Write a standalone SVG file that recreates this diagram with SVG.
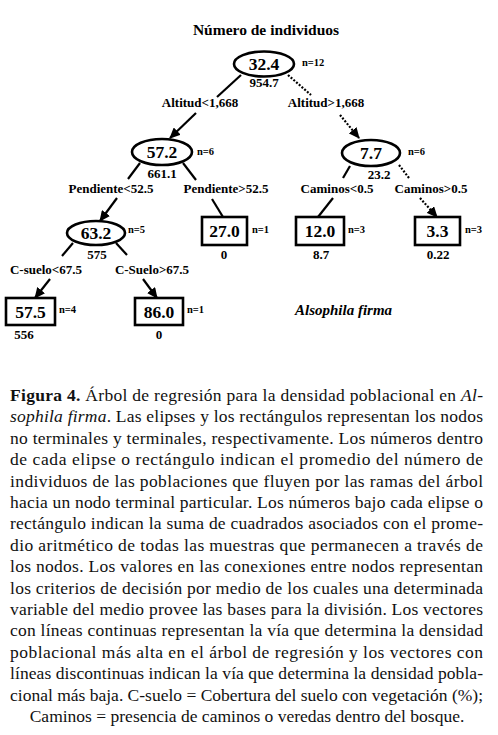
<svg xmlns="http://www.w3.org/2000/svg" width="498" height="735" viewBox="0 0 498 735">
<defs>
<marker id="arr" markerUnits="userSpaceOnUse" markerWidth="11" markerHeight="10" refX="10" refY="5" orient="auto">
<path d="M0,0 L11,5 L0,10 Z" fill="#000"/>
</marker>
<style>
.b{font-family:"Liberation Serif","Times New Roman",serif;font-weight:bold;fill:#000}
.v{font-size:17.5px;text-anchor:middle}
.n{font-size:10.5px}
.s{font-size:13px;text-anchor:middle}
.lab{font-size:13px;text-anchor:middle}
.node{fill:#fff;stroke:#000;stroke-width:2.6}
.ln{stroke:#000;stroke-width:2.2;fill:none}
.dt{stroke:#000;stroke-width:2.2;fill:none;stroke-dasharray:2 1.6}
.cap{font-family:"Liberation Serif","Times New Roman",serif;font-size:17.5px;fill:#111}
</style>
</defs>
<rect width="498" height="735" fill="#fff"/>
<text class="b" x="266" y="35" font-size="15.5" text-anchor="middle">Número de individuos</text>

<g id="connectors">
<line class="ln" x1="241" y1="75" x2="217" y2="97"/>
<line class="ln" x1="196" y1="113" x2="170" y2="138" marker-end="url(#arr)"/>
<line class="dt" x1="288" y1="75" x2="311" y2="95"/>
<line class="dt" x1="340" y1="115" x2="359" y2="138" marker-end="url(#arr)"/>
<line class="ln" x1="140" y1="163" x2="128" y2="179"/>
<line class="ln" x1="117" y1="198" x2="100" y2="221" marker-end="url(#arr)"/>
<line class="ln" x1="183" y1="163" x2="196" y2="180"/>
<line class="ln" x1="212" y1="199" x2="223" y2="217"/>
<line class="ln" x1="73" y1="243" x2="62" y2="256"/>
<line class="ln" x1="50" y1="279" x2="35" y2="298" marker-end="url(#arr)"/>
<line class="ln" x1="116" y1="243" x2="127" y2="255"/>
<line class="ln" x1="143" y1="279" x2="157" y2="298" marker-end="url(#arr)"/>
<line class="ln" x1="350" y1="166" x2="343" y2="178"/>
<line class="ln" x1="333" y1="198" x2="318" y2="217"/>
<line class="dt" x1="399" y1="165" x2="409" y2="178"/>
<line class="dt" x1="420" y1="198" x2="437" y2="217" marker-end="url(#arr)"/>
<text class="b lab" x="200" y="107">Altitud&lt;1,668</text>
<text class="b lab" x="326" y="107">Altitud&gt;1,668</text>
<text class="b lab" x="111" y="193">Pendiente&lt;52.5</text>
<text class="b lab" x="226" y="193">Pendiente&gt;52.5</text>
<text class="b lab" x="337" y="193">Caminos&lt;0.5</text>
<text class="b lab" x="431" y="193">Caminos&gt;0.5</text>
<text class="b lab" x="46" y="274">C-suelo&lt;67.5</text>
<text class="b lab" x="152" y="274">C-Suelo&gt;67.5</text>
</g>

<g id="n-root">
<ellipse class="node" cx="264" cy="64" rx="30" ry="12.5"/>
<text class="b v" x="264" y="70">32.4</text>
<text class="b n" x="302" y="66">n=12</text>
<text class="b s" x="264" y="87">954.7</text>
</g>
<g id="n-572">
<ellipse class="node" cx="162" cy="152" rx="30" ry="13"/>
<text class="b v" x="162" y="158">57.2</text>
<text class="b n" x="197" y="155">n=6</text>
<text class="b s" x="162" y="178">661.1</text>
</g>
<g id="n-77">
<ellipse class="node" cx="371" cy="153" rx="29" ry="13"/>
<text class="b v" x="371" y="159">7.7</text>
<text class="b n" x="408" y="155">n=6</text>
<text class="b s" x="379" y="179">23.2</text>
</g>
<g id="n-632">
<ellipse class="node" cx="96" cy="233" rx="29" ry="12"/>
<text class="b v" x="96" y="239">63.2</text>
<text class="b n" x="128" y="233">n=5</text>
<text class="b s" x="97" y="259">575</text>
</g>
<g id="n-270">
<rect class="node" x="202" y="217" width="45" height="28"/>
<text class="b v" x="224.5" y="237">27.0</text>
<text class="b n" x="252" y="233">n=1</text>
<text class="b s" x="224" y="259">0</text>
</g>
<g id="n-120">
<rect class="node" x="296" y="217" width="48" height="28"/>
<text class="b v" x="320" y="237">12.0</text>
<text class="b n" x="348" y="233">n=3</text>
<text class="b s" x="321" y="259">8.7</text>
</g>
<g id="n-33">
<rect class="node" x="415" y="217" width="45" height="28"/>
<text class="b v" x="437.5" y="237">3.3</text>
<text class="b n" x="465" y="233">n=3</text>
<text class="b s" x="438" y="259">0.22</text>
</g>
<g id="n-575">
<rect class="node" x="6" y="298" width="49" height="27"/>
<text class="b v" x="30.5" y="318">57.5</text>
<text class="b n" x="59" y="313">n=4</text>
<text class="b s" x="24" y="339">556</text>
</g>
<g id="n-860">
<rect class="node" x="135" y="298" width="48" height="27"/>
<text class="b v" x="159" y="318">86.0</text>
<text class="b n" x="187" y="313">n=1</text>
<text class="b s" x="159" y="339">0</text>
</g>
<text class="b" x="295" y="315" font-size="15" font-style="italic">Alsophila firma</text>

<g id="caption">
<text class="cap" x="10" y="401" textLength="473" lengthAdjust="spacing"><tspan font-weight="bold">Figura 4.</tspan> Árbol de regresión para la densidad poblacional en <tspan font-style="italic">Al-</tspan></text>
<text class="cap" x="10" y="422.4" textLength="473" lengthAdjust="spacing"><tspan font-style="italic">sophila firma</tspan>. Las elipses y los rectángulos representan los nodos</text>
<text class="cap" x="10" y="443.8" textLength="473" lengthAdjust="spacing">no terminales y terminales, respectivamente. Los números dentro</text>
<text class="cap" x="10" y="465.2" textLength="473" lengthAdjust="spacing">de cada elipse o rectángulo indican el promedio del número de</text>
<text class="cap" x="10" y="486.6" textLength="473" lengthAdjust="spacing">individuos de las poblaciones que fluyen por las ramas del árbol</text>
<text class="cap" x="10" y="508" textLength="473" lengthAdjust="spacing">hacia un nodo terminal particular. Los números bajo cada elipse o</text>
<text class="cap" x="10" y="529.4" textLength="473" lengthAdjust="spacing">rectángulo indican la suma de cuadrados asociados con el prome-</text>
<text class="cap" x="10" y="550.8" textLength="473" lengthAdjust="spacing">dio aritmético de todas las muestras que permanecen a través de</text>
<text class="cap" x="10" y="572.2" textLength="473" lengthAdjust="spacing">los nodos. Los valores en las conexiones entre nodos representan</text>
<text class="cap" x="10" y="593.6" textLength="473" lengthAdjust="spacing">los criterios de decisión por medio de los cuales una determinada</text>
<text class="cap" x="10" y="615" textLength="473" lengthAdjust="spacing">variable del medio provee las bases para la división. Los vectores</text>
<text class="cap" x="10" y="636.4" textLength="473" lengthAdjust="spacing">con líneas continuas representan la vía que determina la densidad</text>
<text class="cap" x="10" y="657.8" textLength="473" lengthAdjust="spacing">poblacional más alta en el árbol de regresión y los vectores con</text>
<text class="cap" x="10" y="679.2" textLength="473" lengthAdjust="spacing">líneas discontinuas indican la vía que determina la densidad pobla-</text>
<text class="cap" x="10" y="700.6" textLength="473" lengthAdjust="spacing">cional más baja. C-suelo = Cobertura del suelo con vegetación (%);</text>
<text class="cap" x="247" y="722" text-anchor="middle">Caminos = presencia de caminos o veredas dentro del bosque.</text>
</g>
</svg>
